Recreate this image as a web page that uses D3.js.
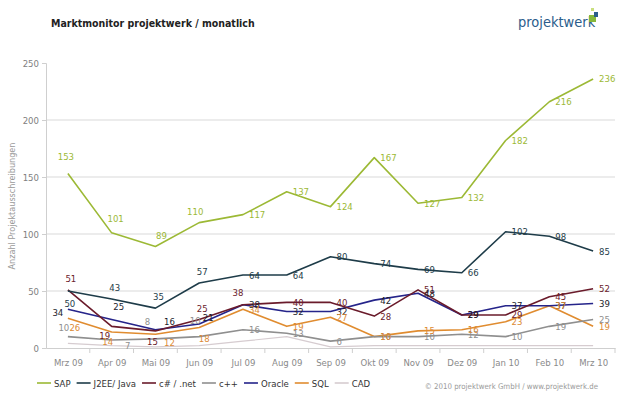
<!DOCTYPE html>
<html>
<head>
<meta charset="utf-8">
<script src="https://cdn.jsdelivr.net/npm/d3@7"></script>
<style>
  body { margin: 0; background: #fff; }
  text { font-family: "DejaVu Sans Condensed", "DejaVu Sans", sans-serif; }
</style>
</head>
<body>
<div id="chart"></div>
<script>
// chart data
let months = ["Mrz 09", "Apr 09", "Mai 09", "Jun 09", "Jul 09", "Aug 09", "Sep 09",
              "Okt 09", "Nov 09", "Dez 09", "Jan 10", "Feb 10", "Mrz 10"];
let sap    = [153, 101, 89, 110, 117, 137, 124, 167, 127, 132, 182, 216, 236];
let java   = [50, 43, 35, 57, 64, 64, 80, 74, 69, 66, 102, 98, 85];
let csharp = [51, 19, 15, 25, 38, 40, 40, 28, 51, 29, 29, 45, 52];
let cpp    = [10, 7, 8, 10, 16, 13, 6, 10, 10, 12, 10, 19, 25];
let oracle = [34, 25, 16, 21, 38, 32, 32, 42, 48, 29, 37, 37, 39];
let sql    = [26, 14, 12, 18, 34, 19, 27, 10, 15, 16, 23, 37, 19];
let cad    = [4, 2, 1, 2, 6, 10, 1, 2, 2, 2, 2, 2, 2];
let seriesNames = ["SAP", "J2EE/ Java", "c# / .net", "c++", "Oracle", "SQL", "CAD"];
let yTicks = [0, 50, 100, 150, 200, 250];

let width = 640, height = 398;
let svg = d3.select('#chart').append('svg')
  .attr('width', width)
  .attr('height', height);

let series = [
  { name: seriesNames[0], values: sap,    color: "#9cb935", label: "#9cb935", labels: true },
  { name: seriesNames[1], values: java,   color: "#1e3c49", label: "#1e3c49", labels: true },
  { name: seriesNames[2], values: csharp, color: "#6a1b2b", label: "#6a1b2b", labels: true },
  { name: seriesNames[3], values: cpp,    color: "#8f8f8f", label: "#8f8f8f", labels: true },
  { name: seriesNames[4], values: oracle, color: "#25248a", label: "#1c1c2c", labels: true },
  { name: seriesNames[5], values: sql,    color: "#e08c30", label: "#dc8a34", labels: true },
  { name: seriesNames[6], values: cad,    color: "#d6ccd0", label: "#aaa",    labels: false }
];

// hand-placed labels (label centre relative to the point), like in the original
let labelNudge = {
  "SAP":        { 0: [-2, -17], 1: [4, -14], 2: [6, -11], 3: [-4, -11] },
  "J2EE/ Java": { 0: [2, 12] },
  "c# / .net":  { 1: [-7, 9], 2: [-3, 11], 4: [-5, -12] },
  "c++":        { 0: [-4, -9], 1: [16, 5], 2: [-8, -17], 3: [-4, -16] },
  "Oracle":     { 0: [-10, 3], 1: [7, -13], 2: [14, -8], 3: [9, -7] },
  "SQL":        { 0: [7, 9], 1: [-4, 9], 2: [14, 8], 3: [5, 11] }
};

let x = d3.scalePoint().domain(months).range([46, 615]).padding(0.5);
let y = d3.scaleLinear().domain([0, 250]).range([348, 63]);

// title + logo
svg.append('text')
  .attr('x', 51).attr('y', 27)
  .attr('font-size', 10.5).attr('font-weight', 'bold')
  .attr('fill', '#222')
  .text('Marktmonitor projektwerk / monatlich');

svg.append('text')
  .attr('x', 518).attr('y', 27)
  .attr('font-family', '"Open Sans", "DejaVu Sans", sans-serif')
  .attr('font-size', 14.5)
  .attr('fill', '#2b5d8c')
  .text('projektwerk');
svg.append('rect').attr('x', 589).attr('y', 15).attr('width', 7).attr('height', 7).attr('fill', '#86b83a');
svg.append('rect').attr('x', 594).attr('y', 12).attr('width', 4).attr('height', 5).attr('fill', '#2b5d8c');
svg.append('rect').attr('x', 591).attr('y', 8).attr('width', 3).attr('height', 3).attr('fill', '#c9df7e');

// gridlines
svg.append('g')
  .selectAll('line')
  .data(yTicks.filter(d => d > 0 && d < 250))
  .enter()
  .append('line')
  .attr('x1', 46).attr('x2', 615)
  .attr('y1', d => y(d)).attr('y2', d => y(d))
  .attr('stroke', '#d9d9d9');

// y axis
let yAxis = svg.append('g')
  .attr('transform', 'translate(46,0)')
  .call(d3.axisLeft(y).tickValues(yTicks).tickSize(4).tickPadding(3));
yAxis.select('.domain').attr('stroke', '#cfcfcf');
yAxis.selectAll('.tick line').attr('stroke', '#cfcfcf');
yAxis.selectAll('text').attr('font-size', 9.5).attr('fill', '#808080')
  .attr('font-family', '"DejaVu Sans Condensed", sans-serif');

svg.append('text')
  .attr('transform', 'translate(15,206) rotate(-90)')
  .attr('text-anchor', 'middle')
  .attr('font-size', 9)
  .attr('fill', '#9a9a9a')
  .text('Anzahl Projektausschreibungen');

// x axis
let xAxis = svg.append('g')
  .attr('transform', 'translate(0,348)')
  .call(d3.axisBottom(x).tickSize(0).tickPadding(11));
xAxis.select('.domain').attr('stroke', '#cfcfcf');
xAxis.selectAll('text').attr('font-size', 9.5).attr('fill', '#8a8a8a')
  .attr('font-family', '"DejaVu Sans Condensed", sans-serif');

let step = x.step();
svg.append('g')
  .selectAll('line')
  .data(months.slice(1).concat(["end"]))
  .enter()
  .append('line')
  .attr('x1', (d, i) => x(months[0]) + step * (i + 0.5))
  .attr('x2', (d, i) => x(months[0]) + step * (i + 0.5))
  .attr('y1', 348).attr('y2', 353)
  .attr('stroke', '#cfcfcf');

// lines
let line = d3.line()
  .x((d, i) => x(months[i]))
  .y(d => y(d));

let drawOrder = series.slice().reverse();
svg.append('g')
  .selectAll('path')
  .data(drawOrder)
  .enter()
  .append('path')
  .attr('d', d => line(d.values))
  .attr('fill', 'none')
  .attr('stroke', d => d.color)
  .attr('stroke-width', d => d.name == "CAD" ? 1.2 : 1.6)
  .attr('stroke-linejoin', 'round');

// value labels: first four months above the point, the rest to the right
function labelPos(s, i, v) {
  let n = (labelNudge[s.name] || {})[i];
  if (n) return { x: x(months[i]) + n[0], y: y(v) + n[1] + 3.5, anchor: 'middle' };
  if (i < 4) return { x: x(months[i]) + 3, y: y(v) - 8, anchor: 'middle' };
  return { x: x(months[i]) + 6, y: y(v) + 3.5, anchor: 'start' };
}

series.filter(s => s.labels).forEach(s => {
  svg.append('g')
    .selectAll('text')
    .data(s.values)
    .enter()
    .append('text')
    .attr('font-size', 9.5)
    .attr('fill', s.label)
    .attr('text-anchor', (d, i) => labelPos(s, i, d).anchor)
    .attr('x', (d, i) => labelPos(s, i, d).x)
    .attr('y', (d, i) => labelPos(s, i, d).y)
    .text(d => d);
});

// legend
let lg = svg.append('g').attr('transform', 'translate(37,383)');
let lx = 0;
series.forEach(s => {
  lg.append('line')
    .attr('x1', lx).attr('x2', lx + 14)
    .attr('y1', 0).attr('y2', 0)
    .attr('stroke', s.color).attr('stroke-width', 1.6);
  let t = lg.append('text')
    .attr('x', lx + 17).attr('y', 3.5)
    .attr('font-size', 9.5)
    .attr('fill', '#333')
    .text(s.name);
  lx += 17 + t.node().getComputedTextLength() + 6;
});

svg.append('text')
  .attr('x', 598).attr('y', 389)
  .attr('text-anchor', 'end')
  .attr('font-size', 7.8)
  .attr('fill', '#9a9a9a')
  .text('© 2010 projektwerk GmbH / www.projektwerk.de');
</script>
</body>
</html>
